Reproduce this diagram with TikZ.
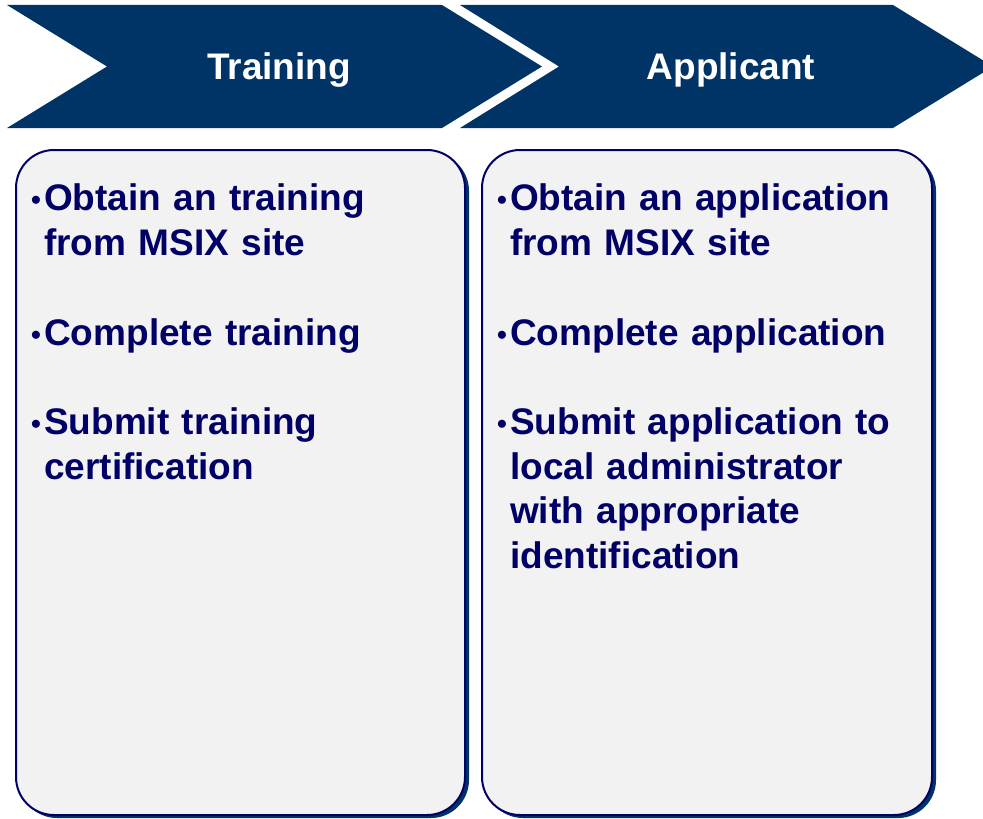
\documentclass[tikz,border=0pt]{standalone}
\usepackage{fontspec}
\setmainfont{Liberation Sans}

\definecolor{chevronblue}{HTML}{003366}
\definecolor{textnavy}{HTML}{000066}
\definecolor{boxgrey}{HTML}{F2F2F2}

% one bullet point with hanging indent, then a blank line
\newcommand{\msixitem}[1]{\par\hangindent=13bp\hangafter=1\noindent\makebox[13bp][l]{\raisebox{1bp}{\fontsize{28bp}{28bp}\selectfont•}}#1\par\vskip\baselineskip}

\begin{document}
\begin{tikzpicture}[x=1bp, y=-1bp, font=\fontsize{37bp}{44.7bp}\selectfont\bfseries]
    \tikzstyle{chevron} = [fill=chevronblue, draw=none]
    \tikzstyle{head_text} = [text=white, anchor=base, inner sep=0]
    \tikzstyle{card} = [draw=textnavy, line width=2bp, fill=boxgrey, rounded corners=38bp]
    \tikzstyle{card_shadow} = [fill=chevronblue, rounded corners=38bp]
    \tikzstyle{card_text} = [text=textnavy, anchor=north west, inner sep=0, text width=420bp]

    \useasboundingbox (0,0) rectangle (983,819);

    % chevrons
    \fill[chevron] (7,5) -- (442,5) -- (542,66.5) -- (442,128) -- (7,128) -- (107,66.5) -- cycle;
    \fill[chevron] (460,5) -- (893,5) -- (993,66.5) -- (893,128) -- (460,128) -- (559,66.5) -- cycle;
    \node[head_text] (hTraining) at (279,80) {Training};
    \node[head_text] (hApplicant) at (731,80) {Applicant};

    % cards
    \fill[card_shadow] (19,153) rectangle (469,818);
    \draw[card] (16,150) rectangle (465,815);
    \fill[card_shadow] (485,153) rectangle (936,818);
    \draw[card] (482,150) rectangle (932,815);

    \node[card_text] (tTraining) at (31,166) {\raggedright
        \msixitem{\rule{0pt}{30bp}Obtain an training\newline from MSIX site}
        \msixitem{Complete training}
        \msixitem{Submit training\newline certification}};
    \node[card_text] (tApplicant) at (497,166) {\raggedright
        \msixitem{\rule{0pt}{30bp}Obtain an application\newline from MSIX site}
        \msixitem{Complete application}
        \msixitem{Submit application to\newline local administrator\newline with appropriate\newline identification}};

\end{tikzpicture}
\end{document}
